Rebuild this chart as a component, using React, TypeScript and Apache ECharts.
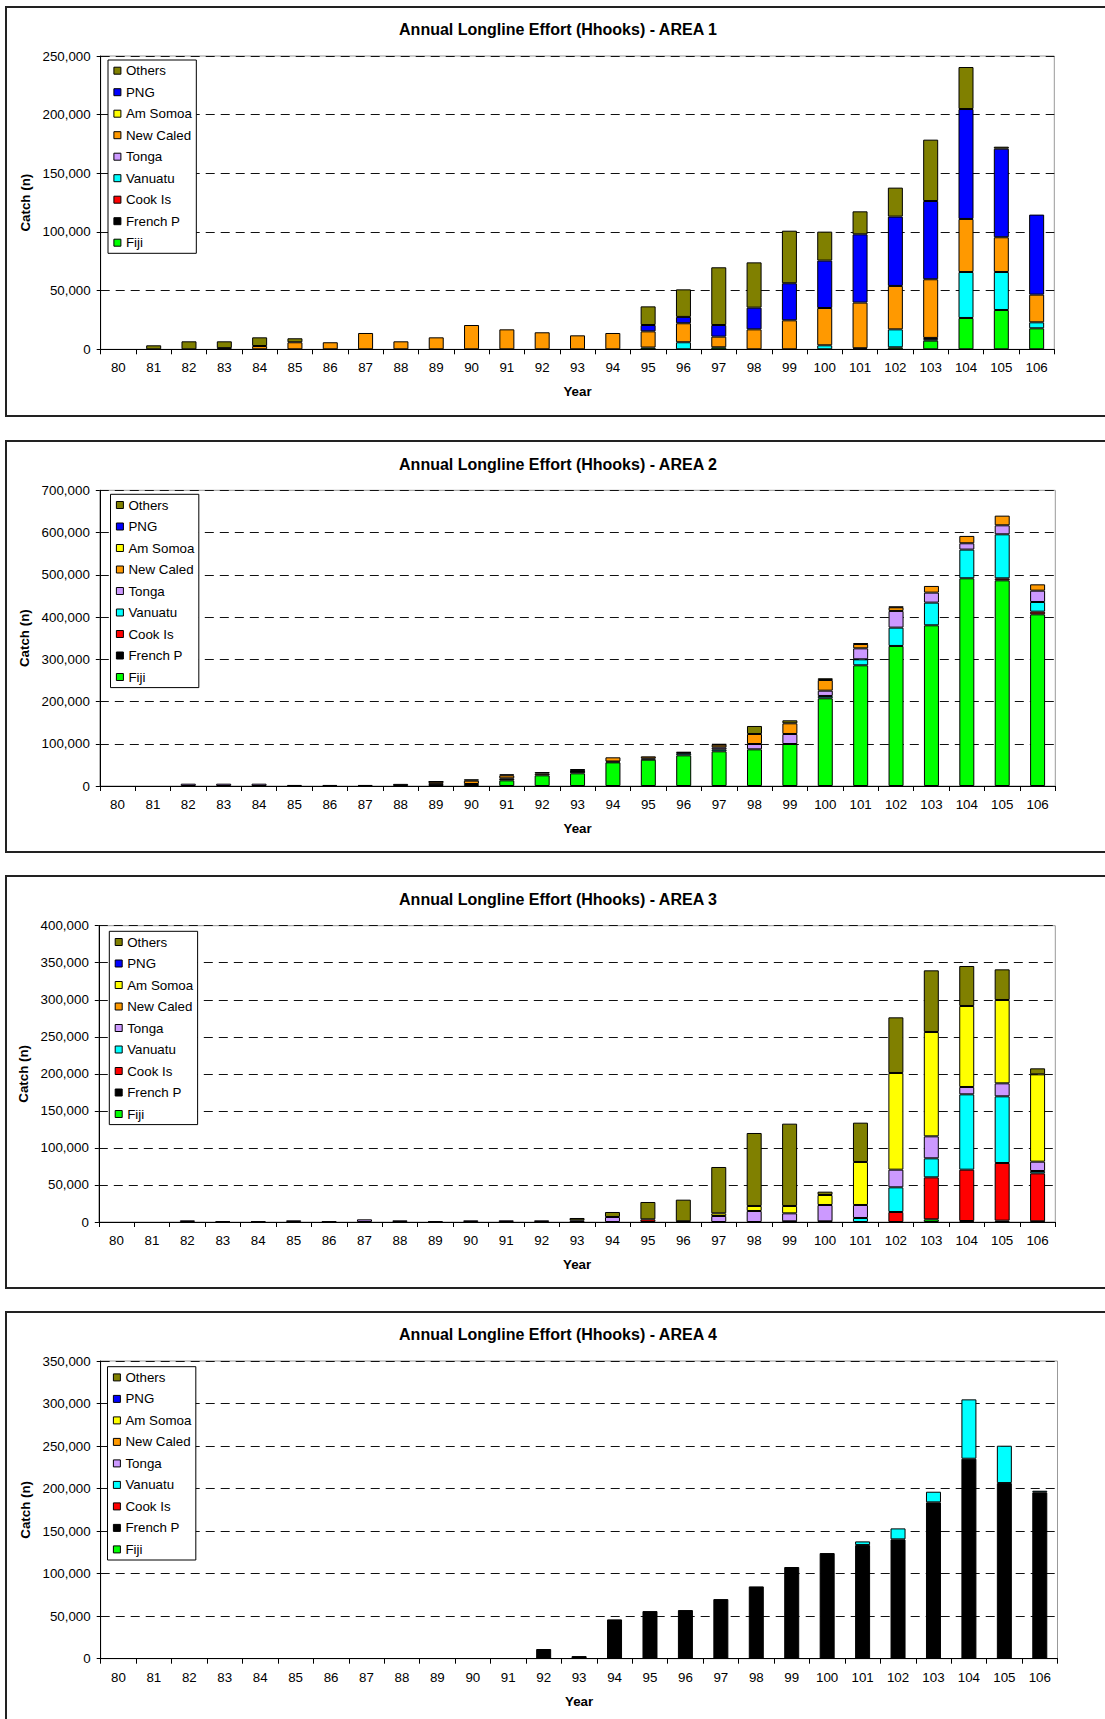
import React, { useEffect, useRef } from "react";
import * as echarts from "echarts";

const YEARS = ["80","81","82","83","84","85","86","87","88","89","90","91","92","93","94","95","96","97","98","99","100","101","102","103","104","105","106"];
const NAMES = ["Fiji", "French P", "Cook Is", "Vanuatu", "Tonga", "New Caled", "Am Somoa", "PNG", "Others"];
const COLORS = ["#00FF00", "#000000", "#FF0000", "#00FFFF", "#CC99FF", "#FF9900", "#FFFF00", "#0000FF", "#808000"];
const LEGEND_ORDER = ["Others", "PNG", "Am Somoa", "New Caled", "Tonga", "Vanuatu", "Cook Is", "French P", "Fiji"];

// ---------- AREA 1 ----------
const a1Fiji     = [0,0,0,0,0,0,0,0,0,0,0,0,0,0,0,1500,0,1700,0,0,0,0,1700,7400,26700,33500,17900];
const a1FrenchP  = [0,0,0,1000,0,0,0,0,0,0,0,0,0,0,0,0,0,0,0,0,0,900,0,0,0,0,0];
const a1CookIs   = [0,0,0,0,0,0,0,0,0,0,0,0,0,0,0,0,0,0,0,0,0,0,0,0,0,0,0];
const a1Vanuatu  = [0,0,0,0,0,0,0,0,0,0,0,0,0,0,0,0,6000,0,0,0,3400,0,15300,1200,39200,32400,5100];
const a1Tonga    = [0,0,0,0,0,0,0,0,0,0,0,0,0,0,0,0,0,0,0,0,0,0,0,1100,0,0,0];
const a1NewCaled = [0,0,0,0,2800,6000,6000,13900,6800,10200,20700,17000,14500,11900,13900,13800,16200,9100,17000,24700,31800,38900,37000,50000,45200,29600,23600];
const a1AmSomoa  = [0,0,0,0,0,0,0,0,0,0,0,0,0,0,0,0,0,0,0,0,0,0,0,0,0,0,0];
const a1PNG      = [0,0,0,0,0,0,0,0,0,0,0,0,0,0,0,5400,5400,9900,18500,31600,40400,58200,59100,66700,93700,75500,68200];
const a1Others   = [0,3400,6800,5800,7400,3400,0,0,0,0,0,0,0,0,0,15900,23500,49200,38600,44800,24700,19600,24700,52300,35800,1700,0];

// ---------- AREA 2 ----------
const a2Fiji     = [0,0,0,0,0,0,0,0,0,0,4700,13400,25300,30000,56000,62300,72600,82100,86800,99400,207600,285700,331500,380400,491700,486900,406400];
const a2FrenchP  = [0,0,0,0,0,2500,2500,2500,5000,5000,0,4700,0,8000,2000,3000,0,0,0,0,0,0,0,0,0,0,0];
const a2CookIs   = [0,0,0,0,0,0,0,0,0,0,0,0,0,0,0,0,0,0,0,0,0,0,0,0,0,4700,6300];
const a2Vanuatu  = [0,0,0,0,0,0,0,0,0,0,0,0,0,0,0,0,4700,4700,0,0,5500,14200,43400,53700,67900,104200,22900];
const a2Tonga    = [0,0,5500,5500,5500,0,0,0,0,0,0,0,0,0,0,0,1600,4700,12600,23700,12600,26000,39500,23700,15000,21300,26800];
const a2NewCaled = [0,0,0,0,0,0,0,0,0,5000,8000,7100,4000,0,9900,4900,1600,6300,23700,25300,25300,10300,8700,15800,17400,22900,15000];
const a2AmSomoa  = [0,0,0,0,0,0,0,0,0,0,0,0,0,0,0,0,0,0,0,0,0,0,0,0,0,0,0];
const a2PNG      = [0,0,0,0,0,0,0,0,0,0,0,0,0,0,0,0,0,0,0,0,0,0,0,0,0,0,0];
const a2Others   = [0,0,0,0,0,0,0,0,0,1000,3100,2400,3800,1500,0,0,0,1500,19000,7100,4000,1500,1500,0,0,0,0];

// ---------- AREA 3 ----------
const a3Fiji     = [0,0,0,0,0,0,0,0,0,0,0,0,0,0,0,0,0,0,0,0,0,0,0,3600,0,1800,0];
const a3FrenchP  = [0,0,0,900,900,0,900,0,0,900,0,0,0,0,0,0,1000,0,0,900,900,0,0,0,1350,0,900];
const a3CookIs   = [0,0,0,0,0,0,0,0,0,0,0,0,0,0,0,3600,0,0,0,0,0,0,13500,56700,69300,77850,64800];
const a3Vanuatu  = [0,0,0,0,0,0,0,0,0,0,0,0,0,0,0,0,0,0,0,0,0,5400,33300,25650,101700,90000,3150];
const a3Tonga    = [0,0,2250,0,0,2250,0,3600,2250,0,2250,2250,2250,2250,6750,0,0,8100,14850,10800,22050,17550,23850,29700,9900,17550,12600];
const a3NewCaled = [0,0,0,0,0,0,0,0,0,0,0,0,0,0,0,0,0,0,0,0,0,0,0,0,0,0,0];
const a3AmSomoa  = [0,0,0,0,0,0,0,0,0,0,0,0,0,0,0,0,0,3600,6750,9900,13500,58050,130500,140850,109350,112500,117900];
const a3PNG      = [0,0,0,0,0,0,0,0,0,0,0,0,0,0,0,0,0,0,0,0,0,0,0,0,0,0,0];
const a3Others   = [0,0,0,0,0,0,0,0,0,0,0,0,0,3150,6750,23400,29150,62550,98550,111150,4500,53100,75150,83250,54000,41400,8100];

// ---------- AREA 4 ----------
const a4Fiji     = [0,0,0,0,0,0,0,0,0,0,0,0,0,0,0,0,0,0,0,0,0,0,0,0,0,0,0];
const a4FrenchP  = [0,0,0,0,0,0,0,0,0,0,0,0,11400,3100,46200,56000,57200,70100,85000,107800,124200,133600,140300,183800,235100,206500,195600];
const a4CookIs   = [0,0,0,0,0,0,0,0,0,0,0,0,0,0,0,0,0,0,0,0,0,0,0,0,0,0,0];
const a4Vanuatu  = [0,0,0,0,0,0,0,0,0,0,0,0,0,0,0,0,0,0,0,0,0,4300,12900,12500,69800,43900,1900];
const a4Tonga    = [0,0,0,0,0,0,0,0,0,0,0,0,0,0,0,0,0,0,0,0,0,0,0,0,0,0,0];
const a4NewCaled = [0,0,0,0,0,0,0,0,0,0,0,0,0,0,0,0,0,0,0,0,0,0,0,0,0,0,0];
const a4AmSomoa  = [0,0,0,0,0,0,0,0,0,0,0,0,0,0,0,0,0,0,0,0,0,0,0,0,0,0,0];
const a4PNG      = [0,0,0,0,0,0,0,0,0,0,0,0,0,0,0,0,0,0,0,0,0,0,0,0,0,0,0];
const a4Others   = [0,0,0,0,0,0,0,0,0,0,0,0,0,0,0,0,0,0,0,0,0,0,0,0,0,0,0];

const TITLES = [
  "Annual Longline Effort (Hhooks) - AREA 1",
  "Annual Longline Effort (Hhooks) - AREA 2",
  "Annual Longline Effort (Hhooks) - AREA 3",
  "Annual Longline Effort (Hhooks) - AREA 4",
];
const Y_MAX = [250000, 700000, 400000, 350000];
const Y_INTERVAL = [50000, 100000, 50000, 50000];

const AREA_DATA = [
  [a1Fiji, a1FrenchP, a1CookIs, a1Vanuatu, a1Tonga, a1NewCaled, a1AmSomoa, a1PNG, a1Others],
  [a2Fiji, a2FrenchP, a2CookIs, a2Vanuatu, a2Tonga, a2NewCaled, a2AmSomoa, a2PNG, a2Others],
  [a3Fiji, a3FrenchP, a3CookIs, a3Vanuatu, a3Tonga, a3NewCaled, a3AmSomoa, a3PNG, a3Others],
  [a4Fiji, a4FrenchP, a4CookIs, a4Vanuatu, a4Tonga, a4NewCaled, a4AmSomoa, a4PNG, a4Others],
];

// layout (page pixels)
const LAYOUT = [
  { frameTop: 7, frameBottom: 416, gTop: 56, gBottom: 349.3, gLeft: 100.7, gRight: 1054.3, titleY: 29.5, legLeft: 108, legTop: 60 },
  { frameTop: 441, frameBottom: 852, gTop: 490.3, gBottom: 786, gLeft: 99.8, gRight: 1055.3, titleY: 464.3, legLeft: 110.5, legTop: 494.3 },
  { frameTop: 876, frameBottom: 1288, gTop: 925.7, gBottom: 1222, gLeft: 98.8, gRight: 1055.3, titleY: 899.3, legLeft: 109.3, legTop: 931.3 },
  { frameTop: 1312, frameBottom: 1740, gTop: 1361, gBottom: 1658.7, gLeft: 100.7, gRight: 1057.5, titleY: 1334.7, legLeft: 107.5, legTop: 1366.7 },
];

const FONT = "Arial, 'Liberation Sans', sans-serif";
const FS = 13.33;

export default function App() {
  const ref = useRef<HTMLDivElement>(null);
  useEffect(() => {
    if (!ref.current) return;
    const chart = echarts.init(ref.current, undefined, { renderer: "svg" });

    const grid = LAYOUT.map((l) => ({
      left: l.gLeft,
      top: l.gTop,
      width: l.gRight - l.gLeft,
      height: l.gBottom - l.gTop,
      show: true,
      borderColor: "#999",
      borderWidth: 1,
      backgroundColor: "transparent",
    }));

    const xAxis = LAYOUT.map((_, i) => ({
      type: "category",
      gridIndex: i,
      data: YEARS,
      name: "Year",
      nameLocation: "middle",
      nameGap: 36,
      nameTextStyle: { fontWeight: "bold", fontSize: FS, color: "#000", fontFamily: FONT },
      axisLine: { show: true, lineStyle: { color: "#000", width: 1 } },
      axisTick: { show: true, length: 5, lineStyle: { color: "#000" } },
      axisLabel: { fontSize: FS, color: "#000", margin: 12, interval: 0, fontFamily: FONT },
      splitLine: { show: false },
    }));

    const yAxis = LAYOUT.map((_, i) => ({
      type: "value",
      gridIndex: i,
      min: 0,
      max: Y_MAX[i],
      interval: Y_INTERVAL[i],
      name: "Catch (n)",
      nameLocation: "middle",
      nameGap: 65,
      nameTextStyle: { fontWeight: "bold", fontSize: FS, color: "#000", fontFamily: FONT },
      axisLine: { show: true, lineStyle: { color: "#000", width: 1 } },
      axisTick: { show: true, length: 4, lineStyle: { color: "#000" } },
      axisLabel: {
        fontSize: FS,
        color: "#000",
        margin: 10,
        fontFamily: FONT,
        formatter: (v: number) => v.toLocaleString("en-US"),
      },
      splitLine: { show: true, lineStyle: { type: [9, 6], color: "#111", width: 1 } },
    }));

    const series: any[] = [];
    AREA_DATA.forEach((arrs, i) => {
      arrs.forEach((arr, j) => {
        series.push({
          type: "bar",
          name: NAMES[j],
          xAxisIndex: i,
          yAxisIndex: i,
          stack: "area" + i,
          barWidth: 15,
          data: arr.map((v) => (v === 0 ? null : v)),
          itemStyle: { color: COLORS[j], borderColor: "#000", borderWidth: 1 },
          emphasis: { disabled: true },
        });
      });
    });

    const legend = LAYOUT.map((l) => ({
      left: l.legLeft,
      top: l.legTop,
      orient: "vertical",
      data: LEGEND_ORDER,
      icon: "rect",
      itemWidth: 7,
      itemHeight: 7,
      itemGap: 7.5,
      padding: [3.7, 4.5, 3.6, 5.4],
      borderColor: "#000",
      borderWidth: 1,
      backgroundColor: "#fff",
      selectedMode: false,
      itemStyle: { borderColor: "#000", borderWidth: 1 },
      textStyle: { fontSize: FS, color: "#000", lineHeight: 14, fontFamily: FONT },
    }));

    const graphic: any[] = [];
    LAYOUT.forEach((l, i) => {
      graphic.push({
        type: "rect",
        shape: { x: 6, y: l.frameTop, width: 1120, height: l.frameBottom - l.frameTop },
        style: { fill: "none", stroke: "#222", lineWidth: 2 },
        silent: true,
        z: -10,
      });
      graphic.push({
        type: "text",
        x: 558,
        y: l.titleY,
        style: {
          text: TITLES[i],
          fill: "#000",
          font: `bold 16px ${FONT}`,
          textAlign: "center",
          textVerticalAlign: "middle",
        },
        silent: true,
      });
    });

    chart.setOption({
      animation: false,
      backgroundColor: "#fff",
      grid,
      xAxis,
      yAxis,
      legend,
      series,
      graphic,
    } as any);

    return () => chart.dispose();
  }, []);

  return (
    <div
      ref={ref}
      style={{ position: "absolute", left: 0, top: 0, width: 1105, height: 1719 }}
    />
  );
}
